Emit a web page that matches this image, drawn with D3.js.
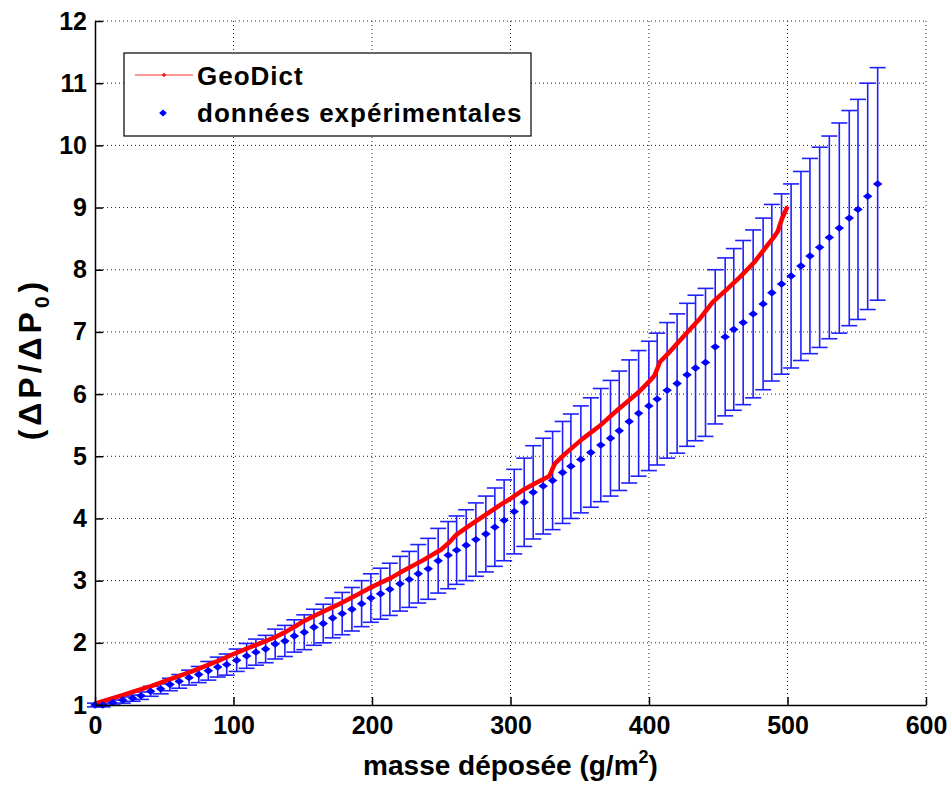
<!DOCTYPE html>
<html>
<head>
<meta charset="utf-8">
<script src="https://cdn.jsdelivr.net/npm/d3@7"></script>
<style>
  body { margin: 0; background: #fff; }
  text { font-family: "Liberation Sans", Arial, sans-serif; font-weight: bold; }
</style>
</head>
<body>
<script>
// GeoDict simulation (red line)
var geoX = [0,10,20,30,40,50,60,70,80,90,100,110,120,130,138,145,150,160,175,190,200,215,222,237,250,256,261,270,280,290,300,310,320,328,330,332,340,352,365,377,392,400,404,408,415,427,437,446,456,466,476,485,490,493,496,500];
var geoY = [1.02,1.09,1.16,1.23,1.30,1.38,1.46,1.54,1.63,1.72,1.82,1.91,2.00,2.09,2.18,2.27,2.34,2.45,2.61,2.78,2.90,3.06,3.15,3.33,3.50,3.62,3.74,3.88,4.03,4.18,4.32,4.47,4.59,4.68,4.78,4.88,5.05,5.28,5.50,5.74,6.02,6.20,6.30,6.52,6.68,6.98,7.22,7.48,7.68,7.89,8.12,8.38,8.52,8.62,8.82,9.02];

// experimental data (blue diamonds + error bars)
var expX = [0,5.6,12.8,20,27.2,33.2,40.2,47.4,54.1,60.8,67.9,74.9,81.8,88.6,95.1,102.3,109.5,116.2,123.2,130.1,137.1,143.9,151.1,158.1,164.8,171.6,178.5,185.5,192.5,199.2,206.2,212.9,220.2,226.9,233.4,240.6,247.8,255,261.1,268,275,282.2,288.7,295.4,302.7,309.9,316.4,323.6,330.4,337.6,343.6,350.8,358,365.2,372.2,378.5,385.7,392.5,399.9,405.9,413.1,420.3,427.5,433.6,440.8,447.8,455,461.2,468,475.2,482.4,488.7,495.7,502.6,509.7,516.2,523.2,530.2,537.4,544.6,550.9,557.9,565.1];
var expY = [1.0,1.0,1.04,1.08,1.11,1.15,1.22,1.26,1.33,1.38,1.44,1.49,1.55,1.61,1.65,1.72,1.79,1.85,1.90,1.98,2.03,2.11,2.17,2.25,2.31,2.40,2.47,2.54,2.63,2.72,2.79,2.86,2.95,3.02,3.11,3.19,3.32,3.41,3.49,3.57,3.66,3.75,3.86,3.97,4.11,4.26,4.42,4.52,4.61,4.74,4.84,4.95,5.06,5.18,5.29,5.41,5.56,5.69,5.81,5.92,6.06,6.17,6.31,6.42,6.51,6.76,6.92,7.04,7.15,7.29,7.45,7.63,7.77,7.90,8.06,8.22,8.36,8.52,8.67,8.83,8.97,9.18,9.38];
var expErr = [0.03,0.03,0.04,0.05,0.05,0.06,0.08,0.08,0.10,0.11,0.12,0.13,0.15,0.16,0.17,0.18,0.20,0.21,0.22,0.24,0.25,0.26,0.28,0.29,0.31,0.32,0.34,0.35,0.37,0.39,0.41,0.42,0.44,0.45,0.47,0.49,0.52,0.54,0.55,0.57,0.59,0.61,0.63,0.65,0.68,0.71,0.75,0.77,0.79,0.82,0.84,0.86,0.88,0.91,0.93,0.96,0.99,1.01,1.04,1.06,1.09,1.12,1.15,1.17,1.19,1.24,1.27,1.30,1.32,1.35,1.38,1.42,1.45,1.48,1.52,1.57,1.61,1.63,1.69,1.73,1.77,1.82,1.87];

var xTicks = [0,100,200,300,400,500,600];
var yTicks = [1,2,3,4,5,6,7,8,9,10,11,12];
var legendLabels = ["GeoDict", "données expérimentales"];

var W = 952, H = 785;
var margin = {left: 95, top: 21, right: 26, bottom: 80};
var iw = W - margin.left - margin.right, ih = H - margin.top - margin.bottom;

var svg = d3.select("body").append("svg").attr("width", W).attr("height", H);
var g = svg.append("g").attr("transform", "translate(" + margin.left + "," + margin.top + ")");

var x = d3.scaleLinear().domain([0, 600]).range([0, iw]);
var y = d3.scaleLinear().domain([1, 12]).range([ih, 0]);

// grid
g.append("g").selectAll("line").data(xTicks.slice(1)).join("line")
  .attr("x1", d => x(d)).attr("x2", d => x(d)).attr("y1", 0).attr("y2", ih)
  .attr("stroke", "#222").attr("stroke-width", 1).attr("stroke-dasharray", "1,3");
g.append("g").selectAll("line").data(yTicks.slice(1)).join("line")
  .attr("y1", d => y(d)).attr("y2", d => y(d)).attr("x1", 0).attr("x2", iw)
  .attr("stroke", "#222").attr("stroke-width", 1).attr("stroke-dasharray", "1,3");

// error bars
var cap = 8;
var eb = g.append("g").attr("stroke", "#2020ff").attr("stroke-width", 1.6).attr("fill", "none");
expX.forEach(function(xv, i) {
  var top = y(expY[i] + expErr[i]), bot = y(expY[i] - expErr[i]), px = x(xv);
  eb.append("line").attr("x1", px).attr("x2", px).attr("y1", top).attr("y2", bot);
  eb.append("line").attr("x1", px - cap).attr("x2", px + cap).attr("y1", top).attr("y2", top);
  eb.append("line").attr("x1", px - cap).attr("x2", px + cap).attr("y1", bot).attr("y2", bot);
});

// GeoDict line
var line = d3.line().x((d, i) => x(geoX[i])).y(d => y(d));
g.append("path").datum(geoY).attr("d", line)
  .attr("fill", "none").attr("stroke", "#ff0000").attr("stroke-width", 4.5).attr("stroke-linejoin", "round");

// diamonds
var diamond = d3.symbol().type(d3.symbolDiamond2).size(48);
g.append("g").selectAll("path").data(expY).join("path")
  .attr("d", diamond)
  .attr("transform", (d, i) => "translate(" + x(expX[i]) + "," + y(d) + ") scale(1.1,0.85)")
  .attr("fill", "#0000ff");

// axes
var xAxis = d3.axisBottom(x).tickValues(xTicks).tickSizeInner(-8).tickSizeOuter(0).tickPadding(11);
var yAxis = d3.axisLeft(y).tickValues(yTicks).tickSizeInner(-8).tickSizeOuter(0).tickPadding(8);
var gx = g.append("g").attr("transform", "translate(0," + ih + ")").call(xAxis);
var gy = g.append("g").call(yAxis);
[gx, gy].forEach(function(a) {
  a.selectAll("path").attr("stroke", "#000").attr("stroke-width", 1.5);
  a.selectAll("line").attr("stroke", "#000").attr("stroke-width", 1.5);
  a.selectAll("text").attr("font-size", 25).attr("fill", "#000")
    .attr("font-family", "Liberation Sans, Arial, sans-serif").attr("font-weight", "bold");
});

// axis labels
var xl = svg.append("text").attr("x", margin.left + iw / 2).attr("y", 775)
  .attr("text-anchor", "middle").attr("font-size", 28);
xl.append("tspan").text("masse déposée (g/m");
xl.append("tspan").attr("font-size", 18).attr("dy", -12).text("2");
xl.append("tspan").attr("dy", 12).text(")");

var yl = svg.append("text").attr("transform", "translate(41,359) rotate(-90)")
  .attr("text-anchor", "middle").attr("font-size", 32).attr("letter-spacing", 4);
yl.append("tspan").text("(ΔP/ΔP");
yl.append("tspan").attr("font-size", 21).attr("dy", 8).text("0");
yl.append("tspan").attr("dy", -8).text(")");

// legend
var lg = svg.append("g").attr("transform", "translate(124,53)");
lg.append("rect").attr("width", 407).attr("height", 83).attr("fill", "#fff").attr("stroke", "#000").attr("stroke-width", 1.2);
lg.append("line").attr("x1", 11).attr("x2", 69).attr("y1", 22).attr("y2", 22).attr("stroke", "#ff3030").attr("stroke-width", 1.2);
lg.append("path").attr("d", d3.symbol().type(d3.symbolCross).size(8)).attr("transform", "translate(40,22)").attr("fill", "#ff0000");
lg.append("path").attr("d", diamond).attr("transform", "translate(39,60) scale(0.9,0.8)").attr("fill", "#0000ff");
lg.selectAll("text.leg").data(legendLabels).join("text").attr("class", "leg")
  .attr("x", 73).attr("y", (d, i) => 32 + i * 37).attr("font-size", 26).attr("letter-spacing", 1).text(d => d);
</script>
</body>
</html>
